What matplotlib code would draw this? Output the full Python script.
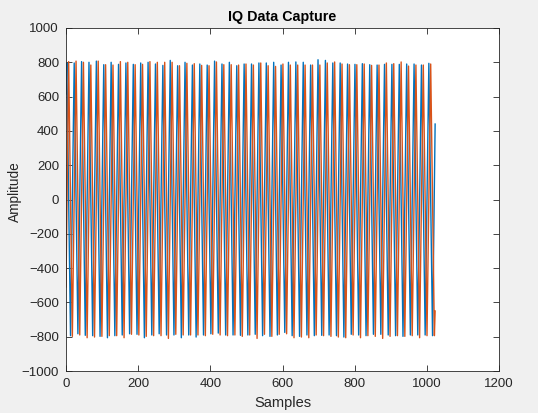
import numpy as np
import matplotlib
matplotlib.use("Agg")
import matplotlib.pyplot as plt

# extrema (I = blue, Q = orange), ~50 cycles over 1024 samples
i_peaks = [796, 796, 804, 800, 807, 786, 800, 788, 796, 788,
           796, 800, 790, 782, 811, 780, 800, 784, 790, 784,
           807, 790, 800, 780, 790, 790, 796, 796, 800, 784,
           800, 802, 800, 784, 815, 811, 796, 796, 790, 788,
           792, 786, 784, 788, 788, 788, 790, 790, 784, 794]
i_troughs = [-794, -783, -792, -794, -798, -806, -794, -790, -783, -786,
             -806, -790, -783, -790, -790, -806, -790, -802, -790, -783,
             -779, -790, -790, -792, -790, -786, -794, -798, -790, -775,
             -794, -798, -790, -794, -792, -790, -794, -802, -786, -790,
             -794, -786, -786, -790, -794, -798, -790, -790, -790, -794]
q_peaks = [804, 807, 800, 784, 807, 786, 784, 804, 800, 786,
           788, 804, 800, 800, 800, 780, 794, 792, 782, 780,
           802, 786, 786, 784, 790, 784, 796, 780, 776, 790,
           784, 784, 784, 784, 784, 796, 802, 790, 786, 786,
           790, 782, 784, 796, 792, 802, 778, 784, 784, 790]
q_troughs = [-798, -790, -806, -802, -798, -794, -794, -806, -786, -790,
             -798, -794, -794, -810, -786, -790, -790, -790, -794, -786,
             -790, -794, -790, -798, -790, -810, -786, -798, -786, -783,
             -806, -802, -806, -790, -794, -798, -802, -806, -790, -806,
             -794, -798, -810, -798, -794, -798, -794, -806, -794, -794]

n_samples = 1024
half_cycle = 10.238          # samples between a peak and the next trough
i_first, q_first = 2.25, 7.37  # sample index of the first peak
i_start, i_end = 616, 440
q_start, q_end = -510, -650


def build(first, peaks, troughs, start, end):
    ext = np.empty(len(peaks) + len(troughs))
    ext[0::2] = peaks
    ext[1::2] = troughs
    xs = first + half_cycle * np.arange(len(ext))
    x = np.concatenate([[0], xs, [n_samples - 1]])
    y = np.concatenate([[start], ext, [end]])
    return x, y


xi, yi = build(i_first, i_peaks, i_troughs, i_start, i_end)
xq, yq = build(q_first, q_peaks, q_troughs, q_start, q_end)

plt.rcParams['font.family'] = ['Liberation Sans', 'DejaVu Sans']
fig = plt.figure(figsize=(5.38, 4.13), dpi=100, facecolor='#f0f0f0')
ax = fig.add_axes([66 / 538, 42 / 413, 433 / 538, 343 / 413])

ax.plot(xi, yi, color='#0072bd', lw=1.0)
ax.plot(xq, yq, color='#d95319', lw=1.0)

ax.set_xlim(0, 1200)
ax.set_ylim(-1000, 1000)
ax.set_xticks(np.arange(0, 1201, 200))
ax.set_yticks(np.arange(-1000, 1001, 200))
ax.tick_params(direction='in', top=True, right=True, length=4, width=0.6,
               labelsize=9.5, colors='#262626', pad=5)
for s in ax.spines.values():
    s.set_linewidth(0.6)
    s.set_color('#262626')

ax.set_title('IQ Data Capture', fontsize=10.3, fontweight='bold', color='black', pad=5)
ax.set_xlabel('Samples', fontsize=10.5, color='#262626', labelpad=4)
ax.set_ylabel('Amplitude', fontsize=9.8, color='#262626', labelpad=0)
ax.yaxis.label.set_y(0.522)

fig.savefig('out.png', dpi=100, facecolor=fig.get_facecolor())
